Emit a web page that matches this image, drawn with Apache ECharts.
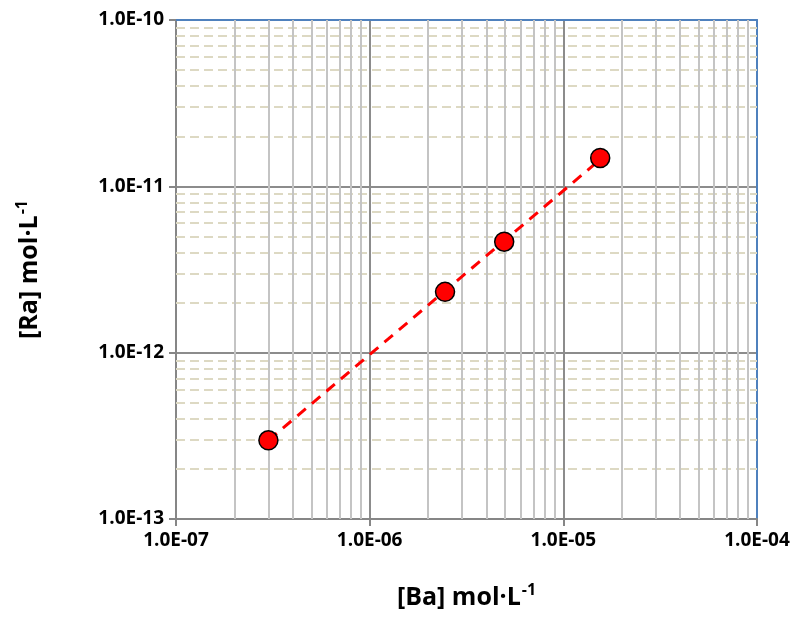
<!DOCTYPE html>
<html><head><meta charset="utf-8">
<script src="https://cdn.jsdelivr.net/npm/echarts@6/dist/echarts.min.js"></script>
<style>html,body{margin:0;padding:0;background:#fff}#c{width:800px;height:617px}</style>
</head><body><div id="c"></div>
<script>
var baValues = [3.0e-7, 2.45e-6, 4.95e-6, 1.55e-5];
var raValues = [2.97e-13, 2.32e-12, 4.65e-12, 1.48e-11];
var trendBa = [3.0e-7, 1.55e-5];
var trendRa = [2.97e-13, 1.45e-11];
var xMinorGrid = [2e-7,3e-7,4e-7,5e-7,6e-7,7e-7,8e-7,9e-7,2e-6,3e-6,4e-6,5e-6,6e-6,7e-6,8e-6,9e-6,2e-5,3e-5,4e-5,5e-5,6e-5,7e-5,8e-5,9e-5];
var yMinorGrid = [2e-13,3e-13,4e-13,5e-13,6e-13,7e-13,8e-13,9e-13,2e-12,3e-12,4e-12,5e-12,6e-12,7e-12,8e-12,9e-12,2e-11,3e-11,4e-11,5e-11,6e-11,7e-11,8e-11,9e-11];
var xRange = [1e-7, 1e-4];
var yRange = [1e-13, 1e-10];
var xTitle = '[Ba] mol·L';
var yTitle = '[Ra] mol·L';

function fmt(v){
  var s = v.toExponential(1).toUpperCase();
  var m = s.match(/^(-?[\d.]+)E([+-])(\d+)$/);
  var e = m[3].length < 2 ? '0' + m[3] : m[3];
  return m[1] + 'E' + (m[2] === '-' ? '-' : '+') + e;
}
var FONT = 'Open Sans';
var chart = echarts.init(document.getElementById('c'), null, {renderer:'canvas'});
var titleRich = {
  t: {fontFamily: FONT, fontWeight: 'bold', fontSize: 25, color: '#000', lineHeight: 32},
  s: {fontFamily: FONT, fontWeight: 'bold', fontSize: 16, color: '#000', verticalAlign: 'top', lineHeight: 32, padding: [0,0,0,1]}
};
chart.setOption({
  animation: false,
  grid: {left: 176, top: 20, right: 43, bottom: 98, containLabel: false},
  xAxis: [{
    type: 'log', logBase: 10, min: xRange[0], max: xRange[1],
    name: '{t|' + xTitle + '}{s|-1}', nameLocation: 'middle', nameGap: 63,
    nameTextStyle: {rich: titleRich},
    axisLine: {lineStyle: {color: '#868686', width: 2}},
    axisTick: {show: true, length: 7, lineStyle: {color: '#868686', width: 2}},
    minorTick: {show: false},
    axisLabel: {formatter: fmt, fontFamily: FONT, fontWeight: 'bold', fontSize: 19, color: '#000', margin: 12},
    splitLine: {show: true, lineStyle: {color: '#8c8c8c', width: 2}}
  }, {
    type: 'log', logBase: 10, min: xRange[0], max: xRange[1], position: 'top',
    axisLine: {lineStyle: {color: '#4f81bd', width: 2}},
    axisTick: {show: false}, axisLabel: {show: false}, splitLine: {show: false}
  }],
  yAxis: [{
    type: 'log', logBase: 10, min: yRange[0], max: yRange[1],
    name: '{t|' + yTitle + '}{s|-1}', nameLocation: 'middle', nameGap: 130, nameRotate: 90,
    nameTextStyle: {rich: titleRich},
    axisLine: {show: true, lineStyle: {color: '#868686', width: 2}},
    axisTick: {show: true, length: 7, lineStyle: {color: '#868686', width: 2}},
    axisLabel: {formatter: fmt, fontFamily: FONT, fontWeight: 'bold', fontSize: 19, color: '#000', margin: 12},
    splitLine: {show: true, lineStyle: {color: '#8c8c8c', width: 2}}
  }, {
    type: 'log', logBase: 10, min: yRange[0], max: yRange[1], position: 'right',
    axisLine: {show: true, lineStyle: {color: '#4f81bd', width: 2}},
    axisTick: {show: false}, axisLabel: {show: false}, splitLine: {show: false}
  }],
  series: [
    {
      type: 'line', data: [[xRange[0], yRange[0]]], symbol: 'none', silent: true, z: 1,
      lineStyle: {opacity: 0},
      markLine: {
        silent: true, z: 1, symbol: ['none','none'], label: {show: false}, animation: false,
        lineStyle: {color: '#ddd9c3', width: 2, type: [9, 5]},
        data: yMinorGrid.map(function(v){return [{coord: [xRange[0], v]}, {coord: [xRange[1], v]}];})
      }
    },
    {
      type: 'line', data: [[xRange[0], yRange[0]]], symbol: 'none', silent: true, z: 1,
      lineStyle: {opacity: 0},
      markLine: {
        silent: true, z: 1, symbol: ['none','none'], label: {show: false}, animation: false,
        lineStyle: {color: '#c4c4c4', width: 2, type: 'solid'},
        data: xMinorGrid.map(function(v){return [{coord: [v, yRange[0]]}, {coord: [v, yRange[1]]}];})
      }
    },
    {
      type: 'line', z: 3,
      data: trendBa.map(function(x, i){return [x, trendRa[i]];}),
      symbol: 'none',
      lineStyle: {color: '#ff0000', width: 3, type: [11, 8]}
    },
    {
      type: 'scatter', z: 4,
      data: baValues.map(function(x, i){return [x, raValues[i]];}),
      symbol: 'circle', symbolSize: 19,
      itemStyle: {color: '#ff0000', borderColor: '#000', borderWidth: 1.5, opacity: 1}
    }
  ]
});
</script></body></html>
